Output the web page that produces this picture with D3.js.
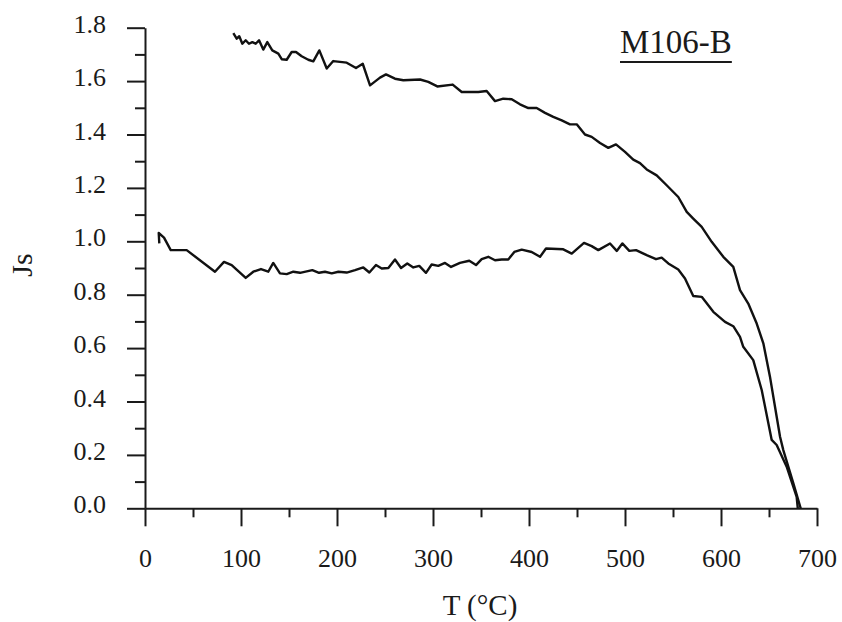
<html>
<head>
<meta charset="utf-8">
<title>M106-B Js vs T</title>
<script src="https://d3js.org/d3.v7.min.js"></script>
<style>
    body { margin: 0; padding: 0; background: #fff; }
    text { font-family: "Liberation Serif", "Times New Roman", serif; fill: #1a1a1a; }
    .tick line, .domain { stroke: #1a1a1a; stroke-width: 2; }
    .curve { fill: none; stroke: #111; stroke-width: 2.4; stroke-linejoin: round; }
</style>
</head>
<body>
<script>
// upper curve (starts near 92 °C, Js 1.78)
var upperT = [92, 95.5, 98.2, 101.4, 104.9, 108.3, 111.8, 115.3, 118.8, 123.2, 127.4, 132.6, 138.9, 142.4,
    147.6, 152.8, 157.3, 163.2, 170.1, 175.3, 181.6, 189.3, 196.1, 210.1, 219.8, 226.8, 234.4, 244.8, 251.0,
    260.4, 269.1, 286.5, 295.1, 304.5, 320.5, 329.9, 347.2, 355.9, 364.6, 373.2, 382, 390.6, 399.3, 408,
    416.7, 425.3, 434.1, 442.7, 449.7, 458.3, 465.3, 474, 482.6, 490.6, 500, 508.6, 515.6, 522.6, 533,
    543.4, 555.5, 564.3, 571.1, 579.9, 590.3, 602.4, 612.8, 619.8, 628.4, 637.2, 644.1, 651, 658, 661.5,
    664.9, 670.1, 675.3, 683];
var upperJs = [1.780, 1.759, 1.768, 1.740, 1.753, 1.740, 1.746, 1.740, 1.753, 1.718, 1.746, 1.715, 1.703, 1.682,
    1.680, 1.709, 1.709, 1.693, 1.680, 1.674, 1.715, 1.647, 1.675, 1.669, 1.649, 1.665, 1.584, 1.613, 1.625,
    1.609, 1.603, 1.606, 1.597, 1.580, 1.587, 1.559, 1.559, 1.563, 1.525, 1.534, 1.532, 1.513, 1.499, 1.499,
    1.481, 1.466, 1.453, 1.438, 1.438, 1.400, 1.391, 1.368, 1.350, 1.363, 1.335, 1.306, 1.293, 1.269, 1.247,
    1.210, 1.166, 1.110, 1.085, 1.054, 0.998, 0.942, 0.904, 0.817, 0.767, 0.692, 0.618, 0.493, 0.343, 0.268,
    0.218, 0.156, 0.094, 0.0];

// lower curve (starts near 15 °C, Js 1.0)
var lowerT = [14.9, 14.3, 19.8, 26.8, 43.4, 72.9, 82.3, 90.3, 104.9, 112.8, 120.8, 128.4, 133.6, 140.6, 147.6,
    154.5, 161.5, 174.3, 181.3, 187.5, 194.5, 201.4, 210.1, 218.8, 227.4, 233.7, 240.6, 246.6, 253.5, 260.4,
    266.7, 273.2, 279.5, 285.7, 292.7, 298.6, 305.5, 312.5, 318.8, 328.1, 337.8, 344.8, 350.7, 357.6, 364.6,
    371.6, 378.4, 384.7, 392.4, 402.8, 411.5, 417.7, 435.7, 444.5, 457.3, 465.3, 472.2, 484.4, 491.4, 497.2,
    504.5, 511.5, 522.6, 532.3, 538.2, 545.1, 555.5, 562.5, 571.1, 579.9, 592, 604.2, 612.8, 619.8, 623.2,
    633.6, 642.4, 652.8, 658, 668.4, 678.8, 680];
var lowerJs = [0.992, 1.031, 1.014, 0.967, 0.967, 0.886, 0.923, 0.911, 0.863, 0.886, 0.896, 0.886, 0.919, 0.880, 0.877,
    0.886, 0.882, 0.892, 0.882, 0.886, 0.880, 0.886, 0.883, 0.892, 0.902, 0.883, 0.911, 0.898, 0.900, 0.932,
    0.900, 0.917, 0.902, 0.908, 0.882, 0.913, 0.908, 0.919, 0.904, 0.919, 0.927, 0.911, 0.933, 0.942, 0.929,
    0.932, 0.932, 0.960, 0.969, 0.960, 0.942, 0.973, 0.970, 0.954, 0.994, 0.982, 0.967, 0.992, 0.964, 0.992,
    0.964, 0.967, 0.948, 0.933, 0.939, 0.917, 0.894, 0.861, 0.795, 0.792, 0.736, 0.698, 0.682, 0.642, 0.605,
    0.555, 0.443, 0.256, 0.237, 0.156, 0.043, 0.0];

var xTicks = [0, 100, 200, 300, 400, 500, 600, 700];
var yTicks = [0, 0.2, 0.4, 0.6, 0.8, 1.0, 1.2, 1.4, 1.6, 1.8];
var xMinor = [50, 150, 250, 350, 450, 550, 650];
var yMinor = [0.1, 0.3, 0.5, 0.7, 0.9, 1.1, 1.3, 1.5, 1.7];
var sampleName = "M106-B";

var w = 842, h = 622;
var x = d3.scaleLinear().domain([0, 700]).range([145, 817]);
var y = d3.scaleLinear().domain([0, 1.8]).range([508.3, 27.7]);

var svg = d3.select("body").append("svg")
    .attr("width", w)
    .attr("height", h);

// minor ticks first, majors drawn on top
svg.append("g")
    .attr("transform", "translate(0," + y(0) + ")")
    .call(d3.axisBottom(x).tickValues(xMinor).tickSize(9).tickSizeOuter(0).tickFormat(""))
    .select(".domain").remove();
svg.append("g")
    .attr("transform", "translate(" + x(0) + ",0)")
    .call(d3.axisLeft(y).tickValues(yMinor).tickSize(10).tickSizeOuter(0).tickFormat(""))
    .select(".domain").remove();

var xAxis = svg.append("g")
    .attr("transform", "translate(0," + y(0) + ")")
    .call(d3.axisBottom(x).tickValues(xTicks).tickSize(18).tickSizeOuter(0).tickPadding(22));
xAxis.selectAll("text").attr("font-size", 26).attr("fill", "#1a1a1a");

var yAxis = svg.append("g")
    .attr("transform", "translate(" + x(0) + ",0)")
    .call(d3.axisLeft(y).tickValues(yTicks).tickSize(18).tickSizeOuter(0).tickPadding(21)
        .tickFormat(d3.format(".1f")));
yAxis.selectAll("text").attr("font-size", 26).attr("dy", "0.18em").attr("fill", "#1a1a1a");
svg.selectAll(".tick text").attr("font-family", "Liberation Serif, serif");

var line = d3.line()
    .x(function(d) { return x(d[0]); })
    .y(function(d) { return y(d[1]); });

svg.append("path")
    .attr("class", "curve")
    .attr("d", line(d3.zip(upperT, upperJs)));
svg.append("path")
    .attr("class", "curve")
    .attr("d", line(d3.zip(lowerT, lowerJs)));

// axis titles
svg.append("text")
    .attr("x", 480)
    .attr("y", 615)
    .attr("text-anchor", "middle")
    .attr("font-size", 29)
    .text("T (\u00B0C)");

svg.append("text")
    .attr("transform", "translate(32,265) rotate(-90)")
    .attr("text-anchor", "middle")
    .attr("font-size", 30)
    .text("Js");

// sample label with underline
var lab = svg.append("text")
    .attr("x", 620)
    .attr("y", 53)
    .attr("font-size", 33)
    .text(sampleName);
var lw = lab.node().getComputedTextLength();
svg.append("line")
    .attr("x1", 620).attr("x2", 620 + lw)
    .attr("y1", 62).attr("y2", 62)
    .attr("stroke", "#1a1a1a")
    .attr("stroke-width", 2);
</script>
</body>
</html>
